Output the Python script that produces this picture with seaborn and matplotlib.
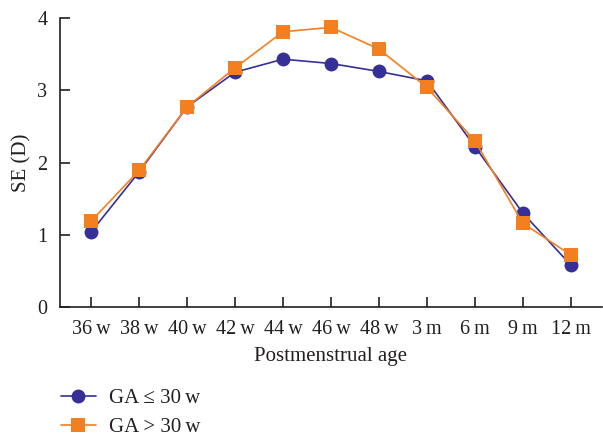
import pandas as pd
import matplotlib
matplotlib.use('Agg')
import matplotlib.pyplot as plt
import seaborn as sns

# Dati
ages = ['36\u2009w', '38\u2009w', '40\u2009w', '42\u2009w', '44\u2009w', '46\u2009w',
        '48\u2009w', '3\u2009m', '6\u2009m', '9\u2009m', '12\u2009m']
se_le30 = [1.04, 1.87, 2.77, 3.25, 3.43, 3.37, 3.26, 3.13, 2.22, 1.30, 0.58]
se_gt30 = [1.19, 1.89, 2.77, 3.31, 3.81, 3.87, 3.57, 3.04, 2.30, 1.16, 0.72]
groups = ['GA \u2264 30\u2009w', 'GA > 30\u2009w']

df = pd.DataFrame({
    'age': ages * 2,
    'se': se_le30 + se_gt30,
    'group': [groups[0]] * len(ages) + [groups[1]] * len(ages),
})

sns.set_style('white')
plt.rcParams['font.family'] = ['Liberation Serif', 'DejaVu Serif']

fig = plt.figure(figsize=(6.03, 4.36), dpi=100)
ax = fig.add_axes([60 / 603, 1 - 307 / 436, 542 / 603, 289 / 436])

colors = {groups[0]: '#352f96', groups[1]: '#f47f20'}
sns.lineplot(data=df, x='age', y='se', hue='group', style='group',
             markers={groups[0]: 'o', groups[1]: 's'}, dashes=False,
             palette=colors, markersize=10, linewidth=1.2,
             markeredgewidth=0, ax=ax, sort=False)

ax.set_xlim(-0.65, len(ages) - 1 + 0.65)
ax.set_ylim(0, 4)
ax.set_yticks([0, 1, 2, 3, 4])
ax.set_xlabel('Postmenstrual age', fontsize=15, labelpad=6, color='#231f20')
ax.set_ylabel('SE (D)', fontsize=15, labelpad=4, color='#231f20')
ax.tick_params(axis='both', direction='in', length=7, width=1.2, colors='#231f20',
               labelsize=14.5, pad=9)
ax.tick_params(axis='x', bottom=True)
ax.tick_params(axis='y', left=True)
for s in ['top', 'right']:
    ax.spines[s].set_visible(False)
for s in ['left', 'bottom']:
    ax.spines[s].set_color('#231f20')
    ax.spines[s].set_linewidth(1.2)

handles, labels = ax.get_legend_handles_labels()
ax.legend(handles, labels, loc='upper left', bbox_to_anchor=(42 / 603, 1 - 370 / 436),
          bbox_transform=fig.transFigure, frameon=False, fontsize=15,
          handlelength=1.7, labelspacing=0.45, handletextpad=0.6,
          labelcolor='#231f20')

fig.savefig('out.png', dpi=100)
